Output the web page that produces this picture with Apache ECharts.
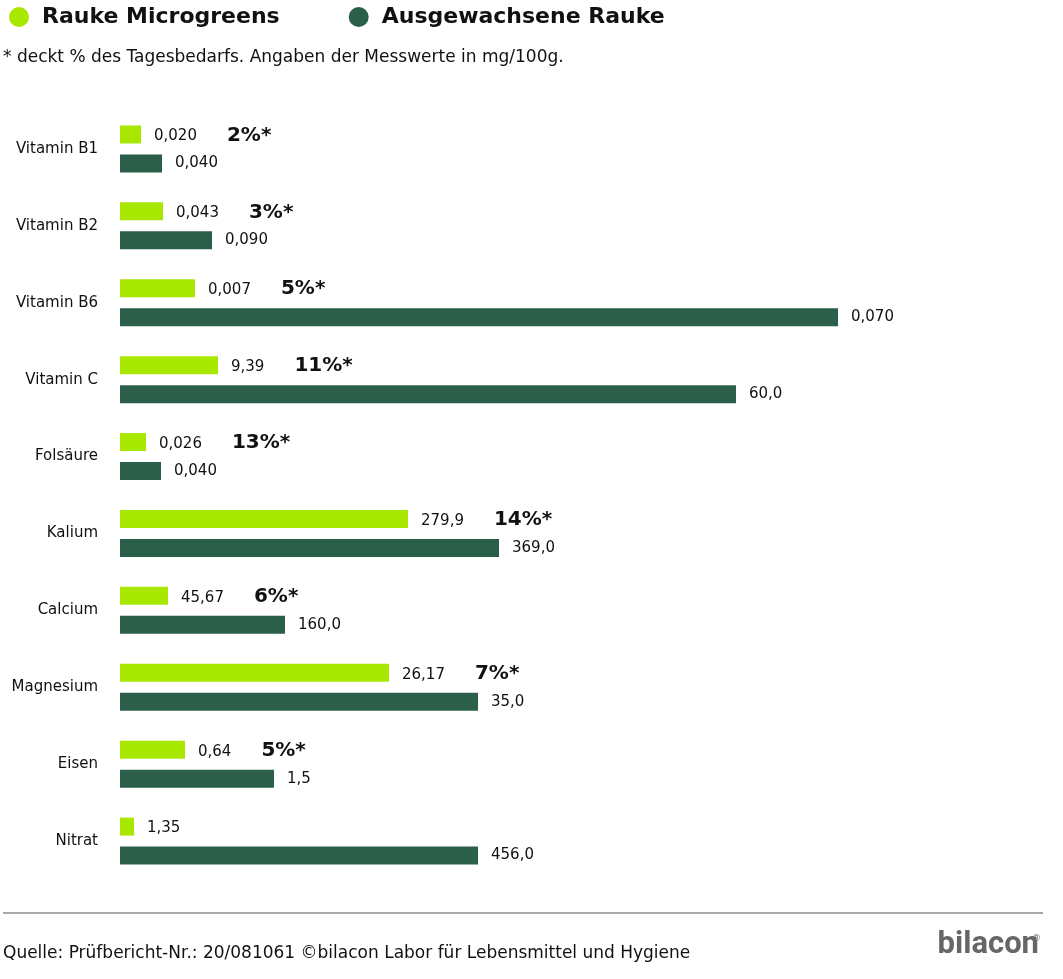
<!DOCTYPE html>
<html><head><meta charset="utf-8">
<script src="https://cdn.jsdelivr.net/npm/echarts@6/dist/echarts.min.js"></script>
<style>html,body{margin:0;padding:0;background:#fff}#c{width:1063px;height:979px}</style>
</head><body><div id="c"></div>
<script>
const categories = ["Vitamin B1","Vitamin B2","Vitamin B6","Vitamin C","Folsäure","Kalium","Calcium","Magnesium","Eisen","Nitrat"];
// bar lengths as drawn in the reference (relative display scale per nutrient)
const microLength = [21,43,75,98,26,288,48,269,65,14];
const grownLength = [42,92,718,616,41,379,165,358,154,358];
// printed values
const microLabel = ["0,020","0,043","0,007","9,39","0,026","279,9","45,67","26,17","0,64","1,35"];
const grownLabel = ["0,040","0,090","0,070","60,0","0,040","369,0","160,0","35,0","1,5","456,0"];
const percentLabel = ["2%*","3%*","5%*","11%*","13%*","14%*","6%*","7%*","5%*",""];
const LIGHT = "#a8e800", DARK = "#2b5f49";
const FONT = "DejaVu Sans";
const chart = echarts.init(document.getElementById('c'));
chart.setOption({
  animation:false,
  textStyle:{fontFamily:FONT},
  legend:{left:4,top:1,itemGap:69,icon:'circle',itemWidth:20,itemHeight:20,
    textStyle:{fontSize:22,fontWeight:'bold',color:'#111',fontFamily:FONT,padding:[0,0,0,8]}},
  grid:{left:120,top:110.5,width:900,height:769},
  xAxis:{type:'value',min:0,max:900,show:false},
  yAxis:{type:'category',data:categories,inverse:true,
    axisLine:{show:false},axisTick:{show:false},
    axisLabel:{fontSize:15,color:'#111',margin:22,fontFamily:FONT}},
  series:[
    {name:'Rauke Microgreens',type:'bar',data:microLength,barWidth:18,barGap:'61%',
     itemStyle:{color:LIGHT},
     label:{show:true,position:'right',distance:13,
       formatter:p=>'{v|'+microLabel[p.dataIndex]+'}'+(percentLabel[p.dataIndex]?'{s|}{p|'+percentLabel[p.dataIndex]+'}':''),
       rich:{v:{fontSize:15,color:'#111',fontFamily:FONT,padding:[4,0,0,0]},s:{width:30},
             p:{fontSize:20,fontWeight:'bold',color:'#111',fontFamily:FONT,padding:[2,0,0,0]}}}},
    {name:'Ausgewachsene Rauke',type:'bar',data:grownLength,barWidth:18,
     itemStyle:{color:DARK},
     label:{show:true,position:'right',distance:13,fontSize:15,color:'#111',fontFamily:FONT,
       padding:[4,0,0,0],formatter:p=>grownLabel[p.dataIndex]}}
  ],
  graphic:[
    {type:'text',left:3,top:49,style:{text:'* deckt % des Tagesbedarfs. Angaben der Messwerte in mg/100g.',fontSize:17,fill:'#111',fontFamily:FONT}},
    {type:'line',shape:{x1:3,y1:913,x2:1043,y2:913},style:{stroke:'#555',lineWidth:1}},
    {type:'text',left:3,top:945,style:{text:'Quelle: Prüfbericht-Nr.: 20/081061 ©bilacon Labor für Lebensmittel und Hygiene',fontSize:17,fill:'#111',fontFamily:FONT}},
    {type:'text',right:24,top:930,style:{text:'bilacon',fontSize:31,fontWeight:'bold',fill:'#666',fontFamily:"Roboto"}},
    {type:'text',right:22,top:934,style:{text:'®',fontSize:9,fill:'#666',fontFamily:FONT}}
  ]
});
</script></body></html>
